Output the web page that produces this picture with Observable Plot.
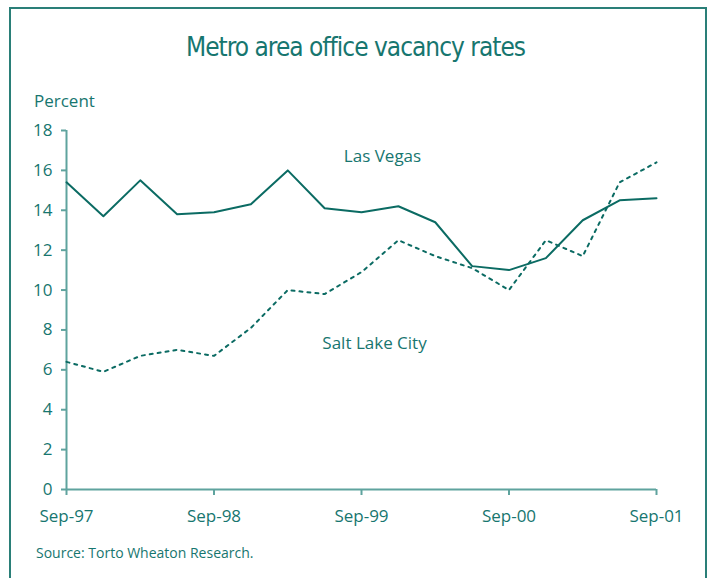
<!DOCTYPE html>
<html>
<head>
<meta charset="utf-8">
<script src="https://cdn.jsdelivr.net/npm/d3@7"></script>
<script src="https://cdn.jsdelivr.net/npm/@observablehq/plot@0.6"></script>
<style>
  html, body { margin: 0; padding: 0; background: #fff; }
  #wrap { position: relative; width: 711px; height: 578px; overflow: hidden; font-family: "Open Sans", sans-serif; color: #17766f; }
  #frame { position: absolute; left: 9px; top: 7px; width: 698px; height: 600px; border: 2px solid #2a7f78; box-sizing: border-box; }
  #title { position: absolute; left: 0; width: 711px; top: 32px; text-align: center; font-family: "Liberation Sans Narrow", "DejaVu Sans Condensed", sans-serif; font-size: 26px; letter-spacing: -1px; color: #17766f; }
  #ylabel { position: absolute; left: 34px; top: 89px; font-size: 17px; }
  #source { position: absolute; left: 36px; top: 543px; font-size: 14px; }
  #chart { position: absolute; left: 0; top: 110px; }
</style>
</head>
<body>
<div id="wrap">
  <div id="frame"></div>
  <div id="title">Metro area office vacancy rates</div>
  <div id="ylabel">Percent</div>
  <div id="chart"></div>
  <div id="source">Source: Torto Wheaton Research.</div>
</div>
<script>
const quarters = ["Sep-97","Dec-97","Mar-98","Jun-98","Sep-98","Dec-98","Mar-99","Jun-99","Sep-99","Dec-99","Mar-00","Jun-00","Sep-00","Dec-00","Mar-01","Jun-01","Sep-01"];
const lasVegas = [15.4,13.7,15.5,13.8,13.9,14.3,16.0,14.1,13.9,14.2,13.4,11.2,11.0,11.6,13.5,14.5,14.6];
const saltLake = [6.4,5.9,6.7,7.0,6.7,8.1,10.0,9.8,10.9,12.5,11.7,11.1,10.0,12.5,11.7,15.4,16.4];
const xTicks = ["Sep-97","Sep-98","Sep-99","Sep-00","Sep-01"];
const yTicks = [0,2,4,6,8,10,12,14,16,18];

const lineColor = "#0b6b63";
const textColor = "#17766f";
const axisColor = "#5fa39e";

const lv = quarters.map((q, i) => ({q, v: lasVegas[i]}));
const sl = quarters.map((q, i) => ({q, v: saltLake[i]}));

const chart = Plot.plot({
  width: 711,
  height: 440,
  marginTop: 20,
  marginBottom: 61,
  marginLeft: 66,
  marginRight: 55,
  style: {fontFamily: "'Open Sans', sans-serif", fontSize: "17px", color: textColor, background: "transparent"},
  x: {type: "point", domain: quarters, padding: 0, inset: 0, round: false},
  y: {domain: [0, 18]},
  marks: [
    Plot.ruleY([0], {stroke: axisColor, strokeWidth: 2}),
    Plot.ruleX([quarters[0]], {y1: 0, y2: 18, stroke: axisColor, strokeWidth: 2}),
    Plot.axisX({ticks: xTicks, tickSize: 6, tickPadding: 14, stroke: axisColor, strokeWidth: 2, fill: textColor, label: null, fontSize: 17}),
    Plot.axisY({ticks: yTicks, tickSize: 5, tickPadding: 9, stroke: axisColor, strokeWidth: 2, fill: textColor, label: null, fontSize: 17}),
    Plot.line(sl, {x: "q", y: "v", stroke: lineColor, strokeWidth: 2, strokeDasharray: "3,5"}),
    Plot.line(lv, {x: "q", y: "v", stroke: lineColor, strokeWidth: 2}),
    Plot.text(["Las Vegas"], {x: () => "Sep-99", y: () => 16.7, dx: 21, text: d => d, fill: textColor, fontSize: 17}),
    Plot.text(["Salt Lake City"], {x: () => "Sep-99", y: () => 7.3, dx: 13, text: d => d, fill: textColor, fontSize: 17})
  ]
});
document.getElementById("chart").appendChild(chart);
</script>
</body>
</html>
